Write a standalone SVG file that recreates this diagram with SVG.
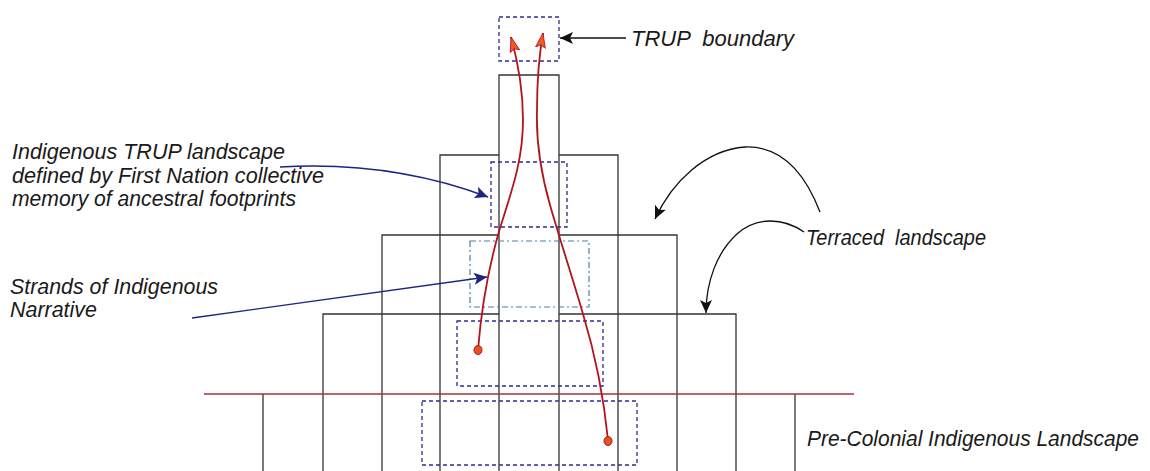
<svg xmlns="http://www.w3.org/2000/svg" width="1150" height="471" viewBox="0 0 1150 471">
  <style>
    .frame { fill: none; stroke: #333333; stroke-width: 1.3; }
    .ground { fill: none; stroke: #a8323a; stroke-width: 1.4; }
    .dash { fill: none; stroke: #2b2f8c; stroke-width: 1.3; stroke-dasharray: 4 3; }
    .dashdot { fill: none; stroke: #4f7f9e; stroke-width: 1.2; stroke-dasharray: 6 3 2 3; }
    .strand { fill: none; stroke: #b3141c; stroke-width: 1.8; }
    .dot { fill: #e8501e; stroke: #b3141c; stroke-width: 1; }
    .conn-blk { fill: none; stroke: #111111; stroke-width: 1.3; }
    .conn-navy { fill: none; stroke: #1c2680; stroke-width: 1.4; }
    .lbl { font-family: "Liberation Sans", Arial, sans-serif; font-style: italic; font-size: 22px; fill: #1a1a1a; white-space: pre; }
  </style>
  <defs>
    <marker id="mBlk" markerUnits="userSpaceOnUse" markerWidth="14" markerHeight="12" refX="13" refY="6" orient="auto">
      <path d="M0,0 L13,6 L0,12 L3,6 z" fill="#111111"/>
    </marker>
    <marker id="mNavy" markerUnits="userSpaceOnUse" markerWidth="14" markerHeight="12" refX="13" refY="6" orient="auto">
      <path d="M0,0 L13,6 L0,12 L3,6 z" fill="#1c2680"/>
    </marker>
    <marker id="mRed" markerUnits="userSpaceOnUse" markerWidth="16" markerHeight="12" refX="15" refY="6" orient="auto">
      <path d="M0,1 L15,6 L0,11 L3,6 z" fill="#ee5a24" stroke="#b3141c" stroke-width="0.8"/>
    </marker>
  </defs>

  <g id="terraces">
    <path class="frame" d="M499,471 V75 H559 V471"/>
    <path class="frame" d="M440,471 V155 H499 M559,155 H618 V471"/>
    <path class="frame" d="M382,471 V235 H499 M559,235 H677 V471"/>
    <path class="frame" d="M323,471 V314 H499 M559,314 H736 V471"/>
    <path class="frame" d="M263,471 V394 M795,471 V394"/>
    <path class="ground" d="M204,394 H854"/>
  </g>

  <g id="trup-boundaries">
    <rect id="box-top" class="dash" x="499" y="17" width="60" height="44"/>
    <rect id="box-2" class="dash" x="491" y="162" width="76" height="65"/>
    <rect id="box-3" class="dashdot" x="470" y="241" width="119" height="66"/>
    <rect id="box-4" class="dash" x="457" y="321" width="146" height="65"/>
    <rect id="box-5" class="dash" x="422" y="401" width="215" height="64"/>
  </g>

  <g id="strands">
    <path class="strand" d="M478,350 C482,300 490,262 500,228 C512,190 523,160 523,120 C523,88 518,62 511,37" marker-end="url(#mRed)"/>
    <path class="strand" d="M608,440 C604,400 597,360 583,314 C572,276 560,240 550,205 C540,170 536,140 537,110 C537,80 539,56 543,33" marker-end="url(#mRed)"/>
    <ellipse class="dot" cx="478" cy="350" rx="4" ry="4.5"/>
    <ellipse class="dot" cx="608" cy="441" rx="4" ry="4.5"/>
  </g>

  <g id="connectors">
    <path class="conn-blk" d="M626,38 H560" marker-end="url(#mBlk)"/>
    <path class="conn-navy" d="M280,167 C365,162 432,176 488,197" marker-end="url(#mNavy)"/>
    <path class="conn-navy" d="M192,318 L487,277" marker-end="url(#mNavy)"/>
    <path class="conn-blk" d="M820,212 C800,160 772,146 745,147 C705,150 672,182 655,219" marker-end="url(#mBlk)"/>
    <path class="conn-blk" d="M804,232 C784,218 757,216 737,234 C717,252 706,282 706,313" marker-end="url(#mBlk)"/>
  </g>

  <g id="label-trup-boundary">
    <text class="lbl" x="631" y="46" textLength="163" lengthAdjust="spacingAndGlyphs">TRUP  boundary</text>
  </g>
  <g id="label-indigenous-trup">
    <text class="lbl" x="12" y="159" textLength="273" lengthAdjust="spacingAndGlyphs">Indigenous TRUP landscape</text>
    <text class="lbl" x="12" y="183" textLength="312" lengthAdjust="spacingAndGlyphs">defined by First Nation collective</text>
    <text class="lbl" x="12" y="206" textLength="284" lengthAdjust="spacingAndGlyphs">memory of ancestral footprints</text>
  </g>
  <g id="label-terraced">
    <text class="lbl" x="806" y="245" textLength="180" lengthAdjust="spacingAndGlyphs">Terraced  landscape</text>
  </g>
  <g id="label-strands">
    <text class="lbl" x="10" y="294" textLength="208" lengthAdjust="spacingAndGlyphs">Strands of Indigenous</text>
    <text class="lbl" x="10" y="317" textLength="87" lengthAdjust="spacingAndGlyphs">Narrative</text>
  </g>
  <g id="label-precolonial">
    <text class="lbl" x="807" y="446" style="font-size:21.5px" textLength="332" lengthAdjust="spacingAndGlyphs">Pre-Colonial Indigenous Landscape</text>
  </g>
</svg>
